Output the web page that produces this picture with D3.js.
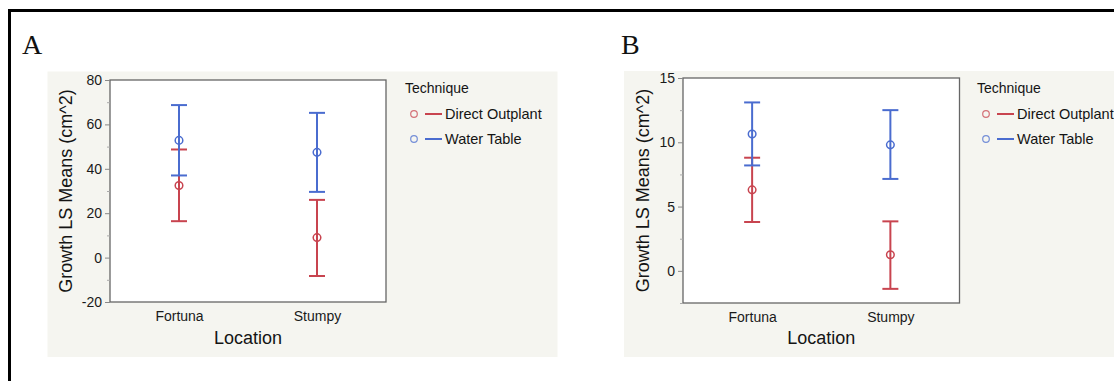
<!DOCTYPE html>
<html>
<head>
<meta charset="utf-8">
<script src="https://cdn.jsdelivr.net/npm/d3@7"></script>
<style>
  html, body { margin: 0; padding: 0; background: #fff; }
  svg { display: block; }
  text { font-family: "Liberation Sans", Arial, Helvetica, sans-serif; fill: #141414; }
</style>
</head>
<body>
<svg id="fig" width="1114" height="381"></svg>
<script>
// Growth least-squares means with confidence intervals, by location and technique
const locations = ["Fortuna", "Stumpy"];
const techniques = ["Direct Outplant", "Water Table"];

// Panel A
const meanA_direct  = [32.5, 9.0];
const lowerA_direct = [16.4, -8.3];
const upperA_direct = [48.7, 26.0];
const meanA_water   = [52.8, 47.4];
const lowerA_water  = [37.0, 29.6];
const upperA_water  = [68.7, 65.2];
const ticksA = [-20, 0, 20, 40, 60, 80];
const minorA = [-10, 10, 30, 50, 70];
const domainA = [-20, 80];

// Panel B
const meanB_direct  = [6.3, 1.25];
const lowerB_direct = [3.8, -1.4];
const upperB_direct = [8.8, 3.85];
const meanB_water   = [10.65, 9.8];
const lowerB_water  = [8.2, 7.15];
const upperB_water  = [13.1, 12.5];
const ticksB = [0, 5, 10, 15];
const minorB = [-2.5, 2.5, 7.5, 12.5];
const domainB = [-2.5, 15];

const colors = { "Direct Outplant": "#c8444f", "Water Table": "#4a6ccf" };

const svg = d3.select("#fig");

// outer frame (open on the right and bottom edges)
svg.append("rect")
  .attr("x", 9.5).attr("y", 10.5)
  .attr("width", 1200).attr("height", 500)
  .attr("fill", "none").attr("stroke", "#000").attr("stroke-width", 3);

function panel(cfg) {
  const g = svg.append("g");

  // grey report background
  g.append("rect")
    .attr("x", cfg.bg[0]).attr("y", cfg.bg[1])
    .attr("width", cfg.bg[2]).attr("height", cfg.bg[3])
    .attr("fill", "#f5f5f0");

  // panel letter
  g.append("text")
    .attr("x", cfg.letterX).attr("y", 54)
    .style("font-family", "'Liberation Serif', 'Times New Roman', serif")
    .style("font-size", "28px").style("fill", "#111")
    .text(cfg.letter);

  const x = d3.scalePoint().domain(locations).range([cfg.left, cfg.left + cfg.w]).padding(0.5);
  const y = d3.scaleLinear().domain(cfg.domain).range([cfg.top + cfg.h, cfg.top]);

  // plot area
  g.append("rect")
    .attr("x", cfg.left).attr("y", cfg.top)
    .attr("width", cfg.w).attr("height", cfg.h)
    .attr("fill", "#fff").attr("stroke", "#666").attr("stroke-width", 1.3);

  // y axis with major and minor ticks (plain hyphen for negatives)
  const yAxis = g.append("g")
    .attr("transform", `translate(${cfg.left},0)`)
    .call(d3.axisLeft(y).tickValues(cfg.ticks).tickSize(5).tickPadding(3).tickFormat(d => String(d)));
  yAxis.select(".domain").remove();
  yAxis.selectAll(".tick line").attr("stroke", "#888");
  yAxis.selectAll(".tick text").style("font-size", "14px").style("fill", "#1a1a1a")
    .style("font-family", "'Liberation Sans', Arial, sans-serif");

  const yMinor = g.append("g")
    .attr("transform", `translate(${cfg.left},0)`)
    .call(d3.axisLeft(y).tickValues(cfg.minor).tickSize(3).tickFormat(""));
  yMinor.select(".domain").remove();
  yMinor.selectAll(".tick line").attr("stroke", "#aaa");

  // x axis labels
  const xAxis = g.append("g")
    .attr("transform", `translate(0,${cfg.top + cfg.h})`)
    .call(d3.axisBottom(x).tickSize(0).tickPadding(9));
  xAxis.select(".domain").remove();
  xAxis.selectAll(".tick text").style("font-size", "14px").style("fill", "#1a1a1a")
    .style("font-family", "'Liberation Sans', Arial, sans-serif");

  // axis titles
  g.append("text")
    .attr("transform", `translate(${cfg.yTitleX},${cfg.top + cfg.h / 2}) rotate(-90)`)
    .attr("text-anchor", "middle").attr("dy", "0.35em")
    .style("font-size", "18px")
    .text("Growth LS Means (cm^2)");
  g.append("text")
    .attr("x", cfg.left + cfg.w / 2).attr("y", 344)
    .attr("text-anchor", "middle")
    .style("font-size", "18px")
    .text("Location");

  // error bars and means
  const capHalf = 8;
  cfg.series.forEach(s => {
    const col = colors[s.name];
    const sg = g.append("g");
    locations.forEach((loc, i) => {
      const cx = x(loc);
      sg.append("line")
        .attr("x1", cx).attr("x2", cx)
        .attr("y1", y(s.lower[i])).attr("y2", y(s.upper[i]))
        .attr("stroke", col).attr("stroke-width", 2);
      [s.lower[i], s.upper[i]].forEach(v => {
        sg.append("line")
          .attr("x1", cx - capHalf).attr("x2", cx + capHalf)
          .attr("y1", y(v)).attr("y2", y(v))
          .attr("stroke", col).attr("stroke-width", 2);
      });
      sg.append("circle")
        .attr("cx", cx).attr("cy", y(s.mean[i])).attr("r", 3.8)
        .attr("fill", "none").attr("stroke", col).attr("stroke-width", 1.5);
    });
  });

  // legend
  const lx = cfg.legendX;
  g.append("text").attr("x", lx).attr("y", 93).style("font-size", "14px").text("Technique");
  techniques.forEach((t, i) => {
    const ly = 114 + i * 25;
    g.append("circle").attr("cx", lx + 9).attr("cy", ly).attr("r", 3.3)
      .attr("fill", "none").attr("stroke", colors[t]).attr("stroke-opacity", 0.75).attr("stroke-width", 1.2);
    g.append("line").attr("x1", lx + 20).attr("x2", lx + 37).attr("y1", ly).attr("y2", ly)
      .attr("stroke", colors[t]).attr("stroke-width", 2);
    g.append("text").attr("x", lx + 40).attr("y", ly).attr("dy", "0.35em")
      .style("font-size", "14.5px").text(t);
  });
}

panel({
  letter: "A", letterX: 22,
  bg: [47.5, 71.5, 510, 285.5],
  left: 110, top: 80, w: 276, h: 222,
  domain: domainA, ticks: ticksA, minor: minorA,
  yTitleX: 66,
  legendX: 405,
  series: [
    { name: "Direct Outplant", mean: meanA_direct, lower: lowerA_direct, upper: upperA_direct },
    { name: "Water Table", mean: meanA_water, lower: lowerA_water, upper: upperA_water }
  ]
});

panel({
  letter: "B", letterX: 621,
  bg: [624, 71, 500, 286],
  left: 683, top: 78, w: 276.5, h: 225,
  domain: domainB, ticks: ticksB, minor: minorB,
  yTitleX: 643,
  legendX: 977,
  series: [
    { name: "Direct Outplant", mean: meanB_direct, lower: lowerB_direct, upper: upperB_direct },
    { name: "Water Table", mean: meanB_water, lower: lowerB_water, upper: upperB_water }
  ]
});
</script>
</body>
</html>
